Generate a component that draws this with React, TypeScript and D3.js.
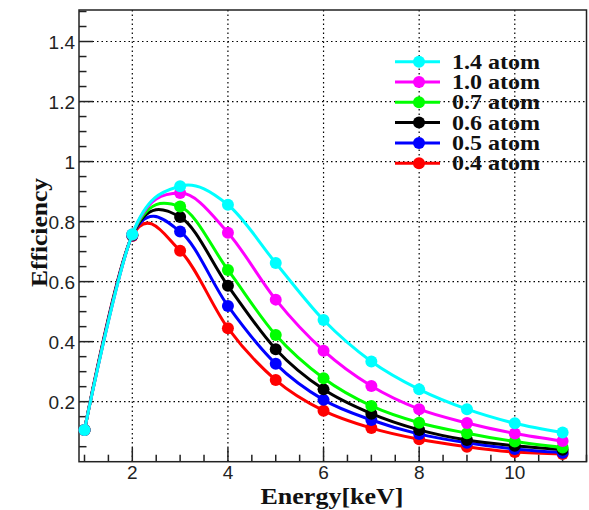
import React from "react";
import * as d3 from "d3";

const energies = [1, 2, 3, 4, 5, 6, 7, 8, 9, 10, 11];
const seriesNames = ["0.4 atom", "0.5 atom", "0.6 atom", "0.7 atom", "1.0 atom", "1.4 atom"];
const seriesColors = ["#ff0000", "#0000ff", "#000000", "#00ff00", "#ff00ff", "#00ffff"];
const eff04 = [0.106, 0.752, 0.703, 0.445, 0.272, 0.170, 0.112, 0.075, 0.050, 0.032, 0.026];
const eff05 = [0.106, 0.754, 0.767, 0.519, 0.326, 0.206, 0.139, 0.092, 0.063, 0.042, 0.030];
const eff06 = [0.106, 0.755, 0.815, 0.586, 0.375, 0.241, 0.160, 0.106, 0.072, 0.053, 0.040];
const eff07 = [0.106, 0.756, 0.850, 0.639, 0.422, 0.278, 0.186, 0.130, 0.095, 0.067, 0.047];
const eff10 = [0.106, 0.757, 0.895, 0.763, 0.540, 0.370, 0.252, 0.175, 0.129, 0.094, 0.069];
const eff14 = [0.106, 0.758, 0.918, 0.856, 0.662, 0.472, 0.334, 0.241, 0.175, 0.128, 0.097];
const seriesValues = [eff04, eff05, eff06, eff07, eff10, eff14];
const xTickLabels = [2, 4, 6, 8, 10];
const yTickLabels = [0.2, 0.4, 0.6, 0.8, 1, 1.2, 1.4];
// legend order (top to bottom)
const legendOrder = [5, 4, 3, 2, 1, 0];

const W = 589;
const H = 510;
const L = 79, R = 586.5, T = 10, B = 461.7;

export default function App() {
  const x = d3.scaleLinear().domain([0.885, 11.5]).range([L, R]);
  const y = d3.scaleLinear().domain([0, 1.505]).range([B, T]);
  const line = d3
    .line<number>()
    .x((_, i) => x(energies[i]))
    .y((d) => y(d))
    .curve(d3.curveCatmullRom.alpha(0));

  const xMinor = d3.range(1, 11.5001, 0.5);
  const yMinor = d3.range(0.05, 1.5001, 0.05);
  const sans = "Liberation Sans, Arial, sans-serif";
  const serif = "Liberation Serif, Times New Roman, serif";

  return (
    <svg
      width={W}
      height={H}
      style={{ position: "absolute", left: 0, top: 0, background: "#fff" }}
    >
      <rect x={0} y={0} width={W} height={H} fill="#fff" />
      {/* grid */}
      {xTickLabels.map((v) => (
        <line key={"gx" + v} x1={x(v)} x2={x(v)} y1={T} y2={B} stroke="#000" strokeWidth={1.2} strokeDasharray="1.5,3" />
      ))}
      {yTickLabels.map((v) => (
        <line key={"gy" + v} x1={L} x2={R} y1={y(v)} y2={y(v)} stroke="#000" strokeWidth={1.2} strokeDasharray="1.5,3" />
      ))}
      {/* frame */}
      <rect x={L} y={T} width={R - L} height={B - T} fill="none" stroke="#222" strokeWidth={1.5} />
      {/* x ticks */}
      {xMinor.map((v) => {
        const major = Math.abs(v / 2 - Math.round(v / 2)) < 1e-6;
        return <line key={"xt" + v} x1={x(v)} x2={x(v)} y1={B} y2={B - (major ? 14 : 7)} stroke="#222" strokeWidth={1.5} />;
      })}
      {xTickLabels.map((v) => (
        <text key={"xl" + v} x={x(v)} y={478.5} textAnchor="middle" fontFamily={sans} fontSize={19} fill="#222">
          {v}
        </text>
      ))}
      {/* y ticks */}
      {yMinor.map((v) => {
        const major = Math.abs(v / 0.2 - Math.round(v / 0.2)) < 1e-6;
        return <line key={"yt" + v.toFixed(2)} x1={L} x2={L + (major ? 14 : 7.5)} y1={y(v)} y2={y(v)} stroke="#222" strokeWidth={1.5} />;
      })}
      {yTickLabels.map((v) => (
        <text key={"yl" + v} x={75} y={y(v) + 7.5} textAnchor="end" fontFamily={sans} fontSize={19} fill="#222">
          {String(v)}
        </text>
      ))}
      {/* axis titles */}
      <text x={332} y={503.5} textAnchor="middle" fontFamily={serif} fontWeight="bold" fontSize={23} textLength={143} lengthAdjust="spacingAndGlyphs" fill="#111">
        Energy[keV]
      </text>
      <text
        transform={`translate(46.5,232.5) rotate(-90)`}
        textAnchor="middle"
        fontFamily={serif}
        fontWeight="bold"
        fontSize={23}
        textLength={109}
        lengthAdjust="spacingAndGlyphs"
        fill="#111"
      >
        Efficiency
      </text>
      {/* series */}
      {seriesValues.map((vals, si) => (
        <g key={"s" + si}>
          <path d={line(vals) || ""} fill="none" stroke={seriesColors[si]} strokeWidth={3} />
          {vals.map((v, i) => (
            <circle key={i} cx={x(energies[i])} cy={y(v)} r={6} fill={seriesColors[si]} />
          ))}
        </g>
      ))}
      {/* legend */}
      {legendOrder.map((si, row) => {
        const ly = 61.7 + row * 20.3;
        return (
          <g key={"lg" + si}>
            <line x1={395} x2={440} y1={ly} y2={ly} stroke={seriesColors[si]} strokeWidth={3} />
            <circle cx={419} cy={ly} r={6} fill={seriesColors[si]} />
            <text x={452} y={ly + 7} fontFamily={serif} fontWeight="bold" fontSize={20} textLength={88} lengthAdjust="spacingAndGlyphs" fill="#111">
              {seriesNames[si]}
            </text>
          </g>
        );
      })}
    </svg>
  );
}
